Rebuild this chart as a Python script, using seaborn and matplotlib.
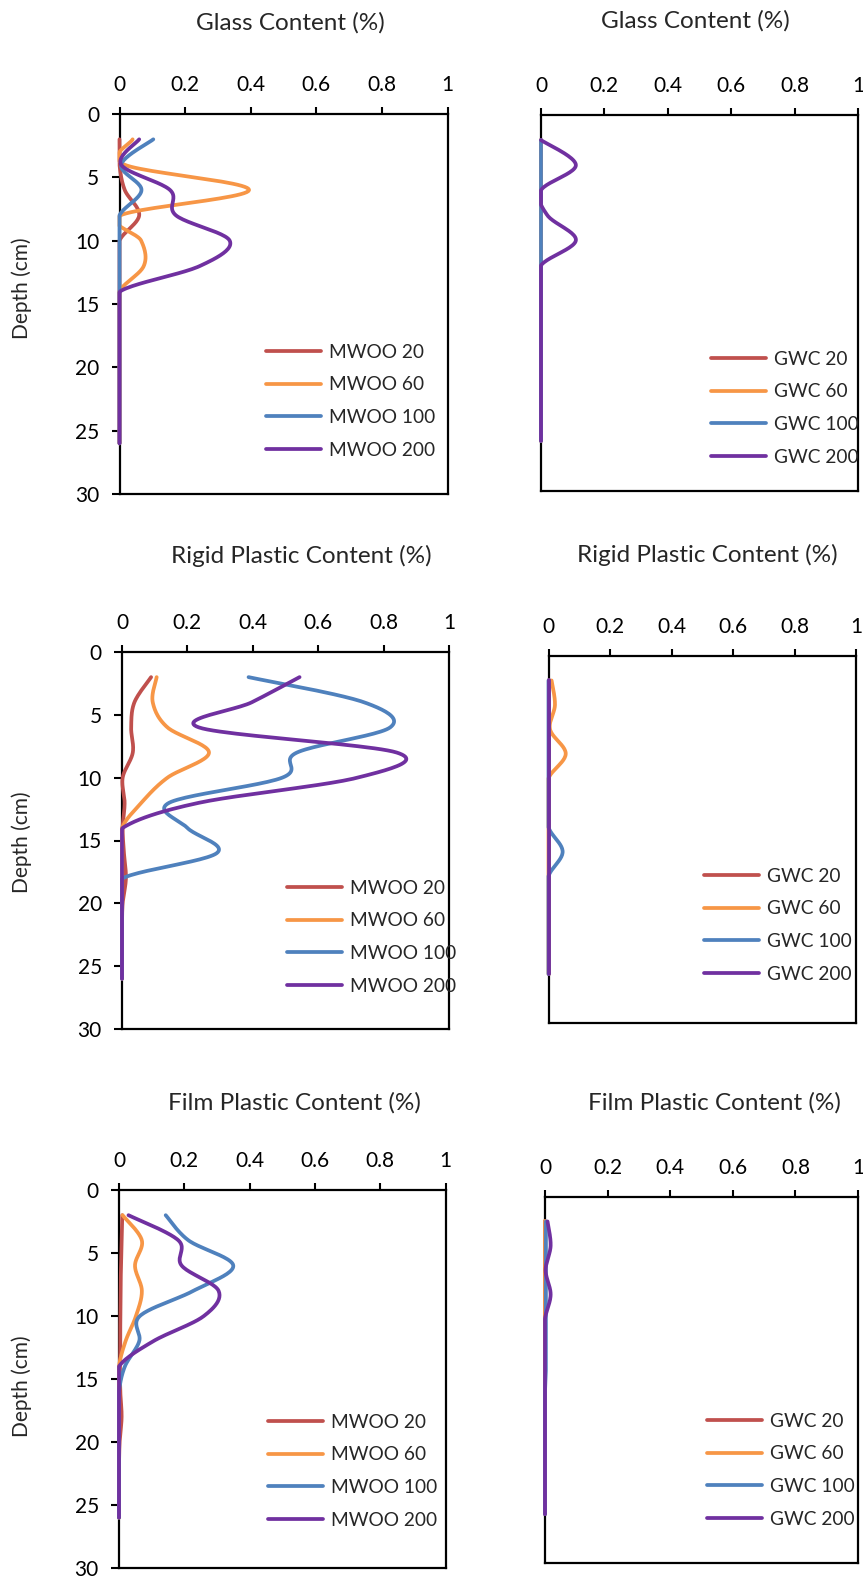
import numpy as np
import pandas as pd
import seaborn as sns
import matplotlib.pyplot as plt

# depth of each sample (cm)
depth = [2, 4, 6, 8, 10, 12, 14, 16, 18, 20, 22, 24, 26]

# Glass content (%)
glass_mwoo_20 = [0, 0, 0.016, 0.06, 0, 0, 0, 0, 0, 0, 0, 0, 0]
glass_mwoo_60 = [0.04, 0.015, 0.395, 0.003, 0.066, 0.074, 0, 0, 0, 0, 0, 0, 0]
glass_mwoo_100 = [0.103, 0.005, 0.067, 0, 0, 0, 0, 0, 0, 0, 0, 0, 0]
glass_mwoo_200 = [0.06, 0.005, 0.154, 0.172, 0.336, 0.245, 0.002, 0, 0, 0, 0, 0, 0]
glass_gwc_20 = [0, 0, 0, 0, 0, 0, 0, 0, 0, 0, 0, 0, 0]
glass_gwc_60 = [0, 0, 0, 0, 0, 0, 0, 0, 0, 0, 0, 0, 0]
glass_gwc_100 = [0, 0, 0, 0, 0, 0, 0, 0, 0, 0, 0, 0, 0]
glass_gwc_200 = [0, 0.11, 0, 0.02, 0.11, 0, 0, 0, 0, 0, 0, 0, 0]

# Rigid plastic content (%)
rigid_mwoo_20 = [0.089, 0.038, 0.028, 0.033, 0.002, 0.008, 0.002, 0.006, 0.012, 0.002, 0, 0, 0]
rigid_mwoo_60 = [0.106, 0.094, 0.139, 0.266, 0.139, 0.059, 0, 0, 0, 0, 0, 0, 0]
rigid_mwoo_100 = [0.387, 0.74, 0.82, 0.535, 0.49, 0.144, 0.2, 0.29, 0.003, 0, 0, 0, 0]
rigid_mwoo_200 = [0.543, 0.397, 0.235, 0.84, 0.72, 0.235, 0.002, 0, 0, 0, 0, 0, 0]
rigid_gwc_20 = [0, 0, 0, 0, 0, 0, 0, 0, 0, 0, 0, 0, 0]
rigid_gwc_60 = [0.01, 0.021, 0.005, 0.056, 0, 0, 0, 0, 0, 0, 0, 0, 0]
rigid_gwc_100 = [0, 0, 0, 0, 0, 0, 0, 0.046, 0, 0, 0, 0, 0]
rigid_gwc_200 = [0, 0, 0, 0, 0, 0, 0, 0, 0, 0, 0, 0, 0]

# Film plastic content (%)
film_mwoo_20 = [0.01, 0.008, 0.006, 0.005, 0.004, 0.004, 0.003, 0.004, 0.008, 0.002, 0, 0, 0]
film_mwoo_60 = [0.011, 0.07, 0.049, 0.07, 0.052, 0.02, 0, 0, 0, 0, 0, 0, 0]
film_mwoo_100 = [0.143, 0.213, 0.35, 0.228, 0.064, 0.062, 0.018, 0, 0, 0, 0, 0, 0]
film_mwoo_200 = [0.029, 0.182, 0.192, 0.305, 0.26, 0.105, 0, 0, 0, 0, 0, 0, 0]
film_gwc_20 = [0, 0, 0, 0, 0, 0, 0, 0, 0, 0, 0, 0, 0]
film_gwc_60 = [0, 0, 0, 0, 0, 0, 0, 0, 0, 0, 0, 0, 0]
film_gwc_100 = [0.003, 0.003, 0.003, 0.003, 0.003, 0.003, 0.003, 0, 0, 0, 0, 0, 0]
film_gwc_200 = [0.008, 0.018, 0.002, 0.018, 0, 0, 0, 0, 0, 0, 0, 0, 0]

titles = ["Glass Content (%)", "Rigid Plastic Content (%)", "Film Plastic Content (%)"]
mwoo_labels = ["MWOO 20", "MWOO 60", "MWOO 100", "MWOO 200"]
gwc_labels = ["GWC 20", "GWC 60", "GWC 100", "GWC 200"]
colors = ["#C0504D", "#F79646", "#4F81BD", "#7030A0"]


def smooth(x, y, n=24):
    # excel-like smoothed line (catmull-rom as bezier)
    pts = np.column_stack([x, y]).astype(float)
    P = np.vstack([pts[0], pts, pts[-1]])
    out = []
    t = np.linspace(0, 1, n, endpoint=False)[:, None]
    for i in range(1, len(P) - 2):
        p0, p1, p2, p3 = P[i - 1], P[i], P[i + 1], P[i + 2]
        c1 = p1 + (p2 - p0) / 6
        c2 = p2 - (p3 - p1) / 6
        out.append((1 - t) ** 3 * p1 + 3 * (1 - t) ** 2 * t * c1
                   + 3 * (1 - t) * t ** 2 * c2 + t ** 3 * p2)
    out.append(pts[-1:])
    s = np.vstack(out)
    s[:, 0] = np.clip(s[:, 0], 0, None)  # plot area clips below 0
    return s


def make_frame(series, labels):
    rows = []
    for vals, lab in zip(series, labels):
        s = smooth(vals, depth)
        rows.append(pd.DataFrame({"content": s[:, 0], "depth": s[:, 1], "series": lab}))
    return pd.concat(rows, ignore_index=True)


sns.set_style("white")
plt.rcParams["font.family"] = ["Lato", "DejaVu Sans"]

W, H = 863, 1577
fig = plt.figure(figsize=(W / 100, H / 100), dpi=100)

# (left, right, top, bottom) in pixels, legend anchor, title centre, ylabel centre
panels = [
    dict(box=(119.5, 447.5, 114, 494), series=[glass_mwoo_20, glass_mwoo_60, glass_mwoo_100, glass_mwoo_200],
         labels=mwoo_labels, title=titles[0], tpos=(290, 23), leg=(266, 351), ylab=288),
    dict(box=(541, 858, 115, 491), series=[glass_gwc_20, glass_gwc_60, glass_gwc_100, glass_gwc_200],
         labels=gwc_labels, title=titles[0], tpos=(695, 21), leg=(711, 358), ylab=None),
    dict(box=(122, 449, 652, 1029), series=[rigid_mwoo_20, rigid_mwoo_60, rigid_mwoo_100, rigid_mwoo_200],
         labels=mwoo_labels, title=titles[1], tpos=(301, 556), leg=(287, 887), ylab=842),
    dict(box=(548.5, 856, 656, 1023), series=[rigid_gwc_20, rigid_gwc_60, rigid_gwc_100, rigid_gwc_200],
         labels=gwc_labels, title=titles[1], tpos=(707, 555), leg=(704, 875), ylab=None),
    dict(box=(119, 445.5, 1190, 1568), series=[film_mwoo_20, film_mwoo_60, film_mwoo_100, film_mwoo_200],
         labels=mwoo_labels, title=titles[2], tpos=(294, 1103), leg=(268, 1421), ylab=1386),
    dict(box=(545, 858, 1197, 1563), series=[film_gwc_20, film_gwc_60, film_gwc_100, film_gwc_200],
         labels=gwc_labels, title=titles[2], tpos=(714, 1103), leg=(707, 1420), ylab=None),
]

row_gap = 33.5
for p in panels:
    l, r, t, b = p["box"]
    ax = fig.add_axes([l / W, 1 - b / H, (r - l) / W, (b - t) / H])
    df = make_frame(p["series"], p["labels"])
    sns.lineplot(data=df, x="content", y="depth", hue="series", hue_order=p["labels"],
                 palette=colors, sort=False, estimator=None, lw=2.7, legend=False, ax=ax,
                 clip_on=False, zorder=3)
    ax.set_xlim(0, 1)
    ax.set_ylim(30, 0)
    ax.xaxis.tick_top()
    ax.set_xticks([0, 0.2, 0.4, 0.6, 0.8, 1])
    ax.set_xticklabels(["0", "0.2", "0.4", "0.6", "0.8", "1"])
    ax.set_xlabel("")
    ax.set_ylabel("")
    for sp in ax.spines.values():
        sp.set_color("black")
        sp.set_linewidth(1.6)
    ax.tick_params(axis="x", top=True, bottom=False, direction="out", length=5, width=1.5,
                   labelsize=15, pad=9, colors="black")
    if p["ylab"] is not None:
        ax.set_yticks([0, 5, 10, 15, 20, 25, 30])
        ax.tick_params(axis="y", left=True, direction="out", length=5.5, width=1.5,
                       labelsize=15, pad=9, colors="black")
        fig.text(22 / W, 1 - p["ylab"] / H, "Depth (cm)", rotation=90, ha="center", va="center",
                 fontsize=15)
    else:
        ax.set_yticks([])
    fig.text(p["tpos"][0] / W, 1 - p["tpos"][1] / H, p["title"], ha="center", va="center",
             fontsize=17.5)

    lx, ly = p["leg"]
    yc = ly + 1.5 * row_gap
    ax.legend(handles=ax.lines[:4], labels=p["labels"], loc="center left",
              bbox_to_anchor=(lx / W, 1 - yc / H), bbox_transform=fig.transFigure,
              frameon=False, fontsize=13.8, handlelength=2.87, handletextpad=0.42,
              borderpad=0, borderaxespad=0, labelspacing=0.82)

fig.savefig("out.png", dpi=100)
